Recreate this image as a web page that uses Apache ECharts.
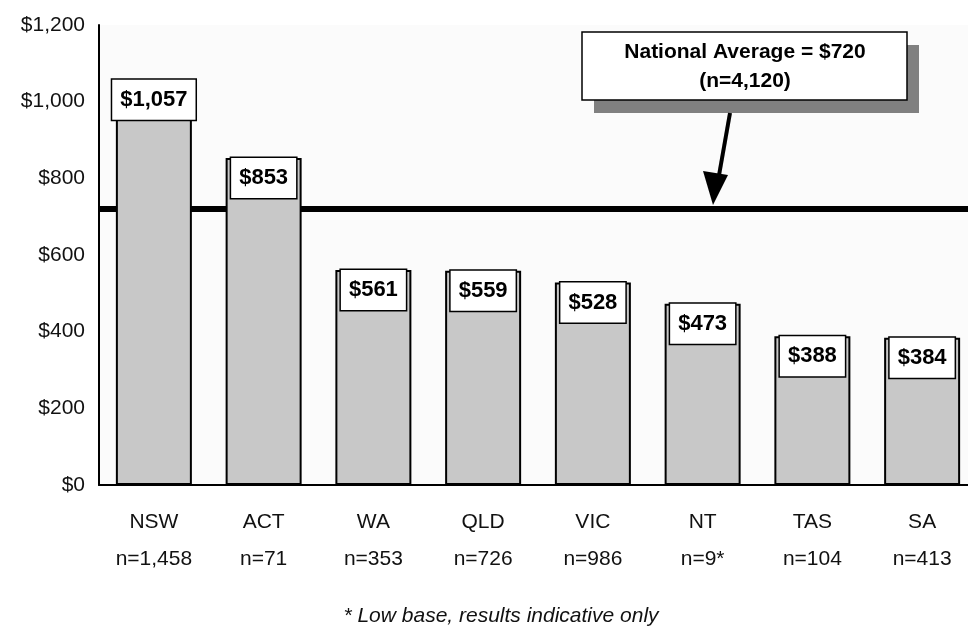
<!DOCTYPE html>
<html>
<head>
<meta charset="utf-8">
<script src="https://cdn.jsdelivr.net/npm/echarts@6/dist/echarts.min.js"></script>
<style>
  html, body { margin: 0; padding: 0; background: #fff; }
  #chart { width: 968px; height: 635px; }
</style>
</head>
<body>
<div id="chart"></div>
<script>
// 州/领地
const states = ['NSW', 'ACT', 'WA', 'QLD', 'VIC', 'NT', 'TAS', 'SA']
// 样本量
const sampleSizes = ['n=1,458', 'n=71', 'n=353', 'n=726', 'n=986', 'n=9*', 'n=104', 'n=413']
// 平均值
const averages = [1057, 853, 561, 559, 528, 473, 388, 384]
// 全国平均
const nationalAverage = 720
const nationalN = '4,120'

const fmtMoney = v => '$' + String(v).replace(/\B(?=(\d{3})+(?!\d))/g, ',')

const chart = echarts.init(document.getElementById('chart'))
const font = 'Liberation Sans, Arial, sans-serif'

const option = {
  animation: false,
  grid: {
    left: 99, width: 878, top: 25, bottom: 150,
    outerBoundsMode: 'none',
    containLabel: false,
    show: true, backgroundColor: '#fbfbfb', borderWidth: 0
  },
  xAxis: {
    type: 'category',
    data: states,
    axisLine: {lineStyle: {color: '#000', width: 2}},
    axisTick: {alignWithLabel: true, length: 15, lineStyle: {color: '#000', width: 2}},
    axisLabel: {
      color: '#111', fontFamily: font, fontSize: 21, lineHeight: 37, margin: 19,
      formatter: (v, i) => v + '\n' + sampleSizes[i]
    }
  },
  yAxis: {
    type: 'value',
    min: 0, max: 1200, interval: 200,
    splitLine: {show: false},
    axisTick: {show: false},
    axisLine: {show: true, lineStyle: {color: '#000', width: 2}},
    axisLabel: {color: '#111', fontFamily: font, fontSize: 21, margin: 14, formatter: fmtMoney}
  },
  series: [{
    type: 'bar',
    z: 2,
    data: averages,
    barWidth: 76,
    itemStyle: {color: '#c8c8c8', borderColor: '#000', borderWidth: 2},
    label: {
      show: true, position: 'insideTop', distance: 0,
      formatter: p => fmtMoney(p.value),
      fontFamily: font, fontWeight: 'bold', fontSize: 22, color: '#000', lineHeight: 22,
      backgroundColor: '#fff', borderColor: '#000', borderWidth: 1.5, padding: [9, 8]
    },
    markLine: {
      z: 1,
      silent: true,
      symbol: 'none',
      label: {show: false},
      lineStyle: {color: '#000', width: 6, type: 'solid'},
      data: [{yAxis: nationalAverage}]
    }
  }]
}

chart.setOption(option)

// 注释框和箭头
const lineY = chart.convertToPixel({yAxisIndex: 0}, nationalAverage)
chart.setOption({
  graphic: [
    {type: 'rect', shape: {x: 594, y: 45, width: 325, height: 68}, style: {fill: '#808080'}, z: 10},
    {type: 'rect', shape: {x: 582, y: 32, width: 325, height: 68}, style: {fill: '#fff', stroke: '#000', lineWidth: 1.5}, z: 11},
    {type: 'text', x: 745, y: 52, z: 12, style: {text: 'National Average = ' + fmtMoney(nationalAverage), fontFamily: font, fontWeight: 'bold', fontSize: 21, fill: '#000', align: 'center', verticalAlign: 'middle'}},
    {type: 'text', x: 745, y: 81, z: 12, style: {text: '(n=' + nationalN + ')', fontFamily: font, fontWeight: 'bold', fontSize: 21, fill: '#000', align: 'center', verticalAlign: 'middle'}},
    {type: 'line', shape: {x1: 730, y1: 113, x2: 718, y2: lineY - 28}, style: {stroke: '#000', lineWidth: 4}, z: 12},
    {type: 'polygon', shape: {points: [[703, lineY - 38], [728, lineY - 34], [713, lineY - 4]]}, style: {fill: '#000'}, z: 12}
  ]
})
</script>
<div style="position:absolute;left:0;top:603px;width:1002px;text-align:center;font-family:'Liberation Sans',Arial,sans-serif;font-style:italic;font-size:21px;color:#111;">* Low base, results indicative only</div>
</body>
</html>
